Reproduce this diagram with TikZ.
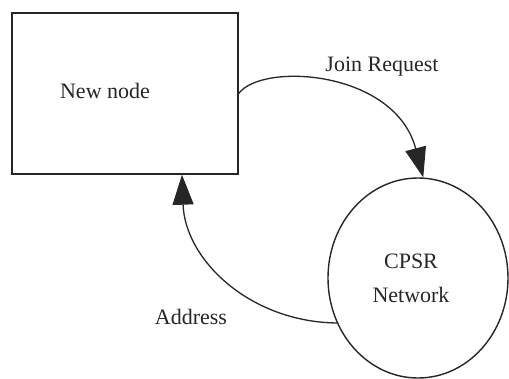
\documentclass[tikz,border=0pt]{standalone}
\usepackage{fontspec}
\setmainfont{Liberation Serif}
\usetikzlibrary{arrows.meta,shapes.geometric}
\begin{document}
\begin{tikzpicture}[x=1pt,y=-1pt,
  shapeline/.style={draw=black!85,line width=1.4pt},
  flow/.style={draw=black!85,line width=1.3pt,-{Triangle[length=30pt,width=21pt]}},
  lbl/.style={font=\fontsize{22}{34}\selectfont,inner sep=0pt,text=black!85}]
\path[use as bounding box,fill=white] (0,0) rectangle (509,378);
\node[shapeline,rectangle,minimum width=226pt,minimum height=161pt,inner sep=0pt] (box) at (125,93.5) {};
\node[shapeline,ellipse,minimum width=180pt,minimum height=200pt,inner sep=0pt] (net) at (418,278) {};
\node[lbl,anchor=base] (boxtext) at (105,98) {New node};
\node[lbl,align=center] (nettext) at (411,278) {CPSR\\Network};
\node[lbl,anchor=base] (join) at (382,71) {Join Request};
\node[lbl,anchor=base] (addr) at (191,324) {Address};
\draw[flow] (box.east) .. controls (262,62) and (395,70) .. (net.87);
\draw[flow] (net.209) .. controls (250,322) and (185,260) .. ([xshift=57pt]box.south);
\end{tikzpicture}
\end{document}
